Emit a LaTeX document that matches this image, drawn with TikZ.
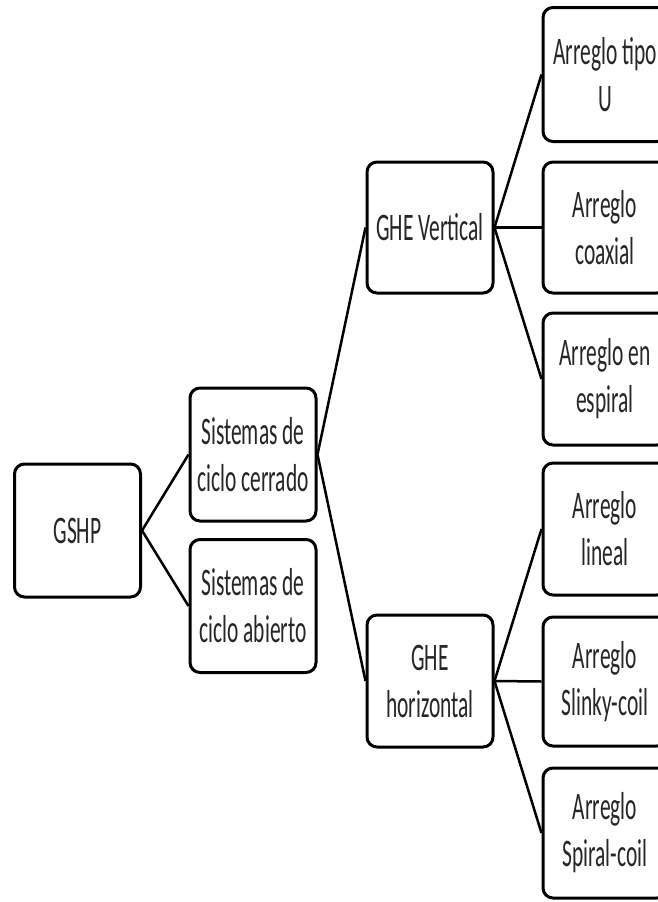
\documentclass[tikz,border=0pt]{standalone}
\usepackage{fontspec}
\newfontfamily\boxfont[FakeStretch=0.55]{Carlito}
\begin{document}
\begin{tikzpicture}[x=1pt,y=-1pt,
  box/.style={draw=black, line width=3pt, rounded corners=10pt, fill=white,
    align=center, inner sep=0pt, text=black!85,
    font=\boxfont\fontsize{39}{47}\selectfont},
  lvl/.style={box, minimum width=126pt, minimum height=133pt},
  conn/.style={draw=black, line width=2.5pt}]
\useasboundingbox (0,0) rectangle (657,902);
\node[lvl] (gshp) at (77.5,530.5) {GSHP};
\node[lvl] (cer) at (253,454.5) {Sistemas de\\ciclo cerrado};
\node[lvl] (abi) at (253,606) {Sistemas de\\ciclo abierto};
\node[lvl, minimum height=131pt] (ghev) at (430,227.5) {GHE Vertical};
\node[lvl, minimum height=132pt] (gheh) at (430,681) {GHE\\horizontal};
\node[lvl, minimum width=124pt, minimum height=134pt] (u) at (605,74.5) {Arreglo tipo\\U};
\node[lvl, minimum width=124pt, minimum height=131pt] (coa) at (605,227.5) {Arreglo\\coaxial};
\node[lvl, minimum width=124pt, minimum height=132pt] (esp) at (605,379) {Arreglo en\\espiral};
\node[lvl, minimum width=124pt, minimum height=132pt] (lin) at (605,529) {Arreglo\\lineal};
\node[lvl, minimum width=124pt, minimum height=129pt] (sli) at (605,681.5) {Arreglo\\Slinky-coil};
\node[lvl, minimum width=124pt, minimum height=130pt] (spi) at (605,833) {Arreglo\\Spiral-coil};
\draw[conn] (gshp.east) -- (cer.west);
\draw[conn] (gshp.east) -- (abi.west);
\draw[conn] (cer.east) -- (ghev.west);
\draw[conn] (cer.east) -- (gheh.west);
\draw[conn] (ghev.east) -- (u.west);
\draw[conn] (ghev.east) -- (coa.west);
\draw[conn] (ghev.east) -- (esp.west);
\draw[conn] (gheh.east) -- (lin.west);
\draw[conn] (gheh.east) -- (sli.west);
\draw[conn] (gheh.east) -- (spi.west);
\end{tikzpicture}
\end{document}
